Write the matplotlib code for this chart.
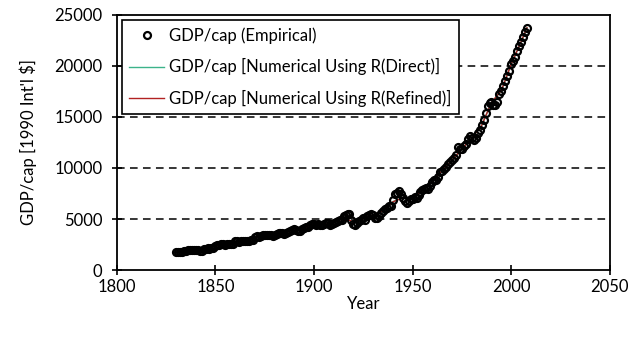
import matplotlib
matplotlib.use("Agg")

import matplotlib.pyplot as plt

plt.rcParams["font.family"] = ["Lato", "DejaVu Sans"]

# ── data: empirical GDP per capita, one value per year 1830-2008 ─────────────
years = list(range(1830, 2009))
gdp_emp = [
    1749, 1802, 1795, 1801, 1839, 1900, 1986, 1947, 1996, 2009,
    1990, 1952, 1886, 1915, 2051, 2103, 2194, 2090, 2119, 2201,
    2330, 2451, 2460, 2507, 2505, 2444, 2535, 2566, 2552, 2602,
    2830, 2835, 2791, 2807, 2834, 2870, 2885, 2867, 2927, 2937,
    3190, 3298, 3260, 3364, 3386, 3415, 3423, 3436, 3427, 3354,
    3477, 3569, 3631, 3637, 3624, 3568, 3596, 3680, 3792, 3953,
    4009, 3967, 3852, 3817, 4023, 4093, 4236, 4252, 4373, 4546,
    4492, 4450, 4525, 4426, 4398, 4471, 4585, 4626, 4429, 4483,
    4611, 4709, 4762, 4921, 4927, 5288, 5405, 5467, 5459, 4877,
    4548, 4439, 4637, 4760, 4925, 5144, 4920, 5315, 5357, 5503,
    5441, 5138, 5148, 5277, 5608, 5799, 6003, 6115, 6266, 6262,
    6856, 7482, 7553, 7709, 7435, 7056, 6746, 6604, 6746, 6956,
    6939, 7123, 7091, 7346, 7619, 7868, 7929, 8017, 7966, 8240,
    8645, 8857, 8865, 9149, 9568, 9752, 9885, 10049, 10410, 10552,
    10767, 10941, 11294, 12025, 11859, 11847, 12115, 12384, 12828, 13167,
    12931, 12747, 12955, 13405, 13733, 14165, 14742, 15396, 16110, 16414,
    16430, 16149, 16133, 16488, 17201, 17589, 17985, 18531, 19033, 19480,
    20159, 20515, 20861, 21447, 21993, 22377, 22836, 23320, 23742,
]

# numerical solutions, sampled every 5 years
years_num = [1830, 1835, 1840, 1845, 1850, 1855, 1860, 1865, 1870, 1875,
             1880, 1885, 1890, 1895, 1900, 1905, 1910, 1915, 1920, 1925,
             1930, 1935, 1940, 1945, 1950, 1955, 1960, 1965, 1970, 1975,
             1980, 1985, 1990, 1995, 2000, 2005, 2008]
gdp_direct = [1749, 1890, 1985, 2090, 2310, 2470, 2790, 2880, 3180, 3400,
              3480, 3590, 3990, 4100, 4480, 4480, 4610, 5100, 4700, 5050,
              5400, 5780, 6700, 7100, 6950, 7850, 8640, 9740, 10760, 11850,
              12920, 14150, 16400, 17580, 20150, 22360, 23740]
gdp_refined = [1749, 1895, 1990, 2095, 2320, 2460, 2800, 2875, 3185, 3405,
               3475, 3585, 4000, 4095, 4490, 4475, 4615, 5080, 4720, 5040,
               5410, 5790, 6680, 7080, 6940, 7860, 8650, 9750, 10770, 11860,
               12930, 14160, 16420, 17590, 20160, 22370, 23742]

y_ticks = [0, 5000, 10000, 15000, 20000, 25000]
x_ticks = [1800, 1850, 1900, 1950, 2000, 2050]

# ── plot ─────────────────────────────────────────────────────────────────────
fig = plt.figure(figsize=(6.28, 3.38), dpi=100)
ax = fig.add_axes([0.186, 0.201, 0.785, 0.755])

for yv in y_ticks[1:-1]:
    ax.axhline(yv, color="black", linestyle=(0, (5, 3.5)), linewidth=1.1, zorder=1)

ax.plot(years, gdp_emp, linestyle="none", marker="o", markersize=5,
        markerfacecolor="none", markeredgecolor="black", markeredgewidth=1.6,
        label="GDP/cap (Empirical)", zorder=3)
ax.plot(years_num, gdp_direct, color="#3cb38a", linewidth=1.0,
        label="GDP/cap [Numerical Using R(Direct)]", zorder=2)
ax.plot(years_num, gdp_refined, color="#b22222", linewidth=1.0,
        label="GDP/cap [Numerical Using R(Refined)]", zorder=2)

ax.set_xlim(1800, 2050)
ax.set_ylim(0, 25000)
ax.set_xticks(x_ticks)
ax.set_yticks(y_ticks)
ax.tick_params(direction="inout", length=7, width=1.2, labelsize=12)
ax.tick_params(axis="y", pad=7)
ax.tick_params(axis="x", pad=3)
for sp in ax.spines.values():
    sp.set_linewidth(1.3)

ax.set_xlabel("Year", fontsize=12, labelpad=1)
ax.set_ylabel("GDP/cap [1990 Int'l $]", fontsize=12, labelpad=12)

leg = ax.legend(loc="upper left", fontsize=12, frameon=True, fancybox=False,
                framealpha=1, edgecolor="black", borderaxespad=0.3,
                handlelength=2.1, handletextpad=0.3, numpoints=1,
                labelspacing=0.87, borderpad=0.45)
leg.get_frame().set_linewidth(1.2)
leg.set_zorder(5)

fig.savefig("out.png", dpi=100)
